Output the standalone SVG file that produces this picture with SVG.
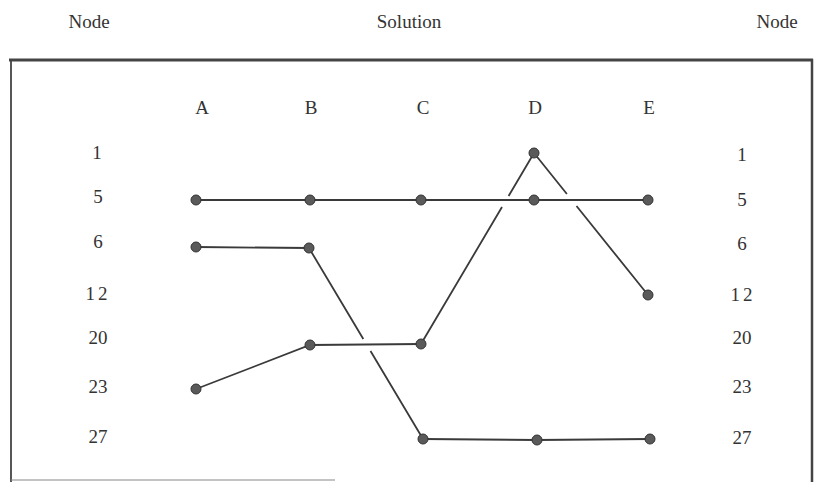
<svg xmlns="http://www.w3.org/2000/svg" width="825" height="482" viewBox="0 0 825 482">
<style>
text{font-family:"Liberation Serif","DejaVu Serif",serif;font-size:19px;fill:#333;text-anchor:middle}
.ln{stroke:#3a3a3a;stroke-width:1.8;fill:none}
.dot{fill:#5a5a5a;stroke:#333;stroke-width:1}
</style>
<rect width="825" height="482" fill="#fff"/>
<g id="headers">
<text x="89" y="28">Node</text>
<text x="409" y="28">Solution</text>
<text x="777" y="28">Node</text>
</g>
<g id="frame" stroke="#444" fill="none">
<line x1="9" y1="60" x2="813" y2="60" stroke-width="3"/>
<line x1="11" y1="59" x2="11" y2="482" stroke-width="1.8"/>
<line x1="812" y1="59" x2="812" y2="482" stroke-width="2.5"/>
<line x1="11" y1="480" x2="335" y2="480" stroke-width="1.2" stroke="#888"/>
</g>
<g id="columns">
<text x="202" y="114">A</text>
<text x="311" y="114">B</text>
<text x="423" y="114">C</text>
<text x="535" y="114">D</text>
<text x="649" y="114">E</text>
</g>
<g id="rows-left">
<text x="97" y="159">1</text>
<text x="98" y="203">5</text>
<text x="98" y="248">6</text>
<text x="98" y="300" letter-spacing="3">12</text>
<text x="98" y="344">20</text>
<text x="98" y="393">23</text>
<text x="98" y="443">27</text>
</g>
<g id="rows-right">
<text x="742" y="161">1</text>
<text x="742" y="206">5</text>
<text x="742" y="250">6</text>
<text x="743" y="301" letter-spacing="3">12</text>
<text x="742" y="344">20</text>
<text x="742" y="393">23</text>
<text x="742" y="444">27</text>
</g>
<g id="connectors">
<path class="ln" d="M196 200 H648"/>
<path class="ln" d="M196 247 L309 248"/>
<path class="ln" d="M309 248 L363.3 339 M370.5 351 L423 439"/>
<path class="ln" d="M423 439 L537 440 L650 439"/>
<path class="ln" d="M196 389 L310 345 L421 344"/>
<path class="ln" d="M421 344 L502 207 M508.6 196 L534 153"/>
<path class="ln" d="M534 153 L566.9 194 M576.5 206 L648 295"/>
</g>
<g id="nodes">
<circle class="dot" cx="196" cy="200" r="5"/>
<circle class="dot" cx="310" cy="200" r="5"/>
<circle class="dot" cx="421" cy="200" r="5"/>
<circle class="dot" cx="534" cy="200" r="5"/>
<circle class="dot" cx="648" cy="200" r="5"/>
<circle class="dot" cx="196" cy="247" r="5"/>
<circle class="dot" cx="309" cy="248" r="5"/>
<circle class="dot" cx="534" cy="153" r="5"/>
<circle class="dot" cx="648" cy="295" r="5"/>
<circle class="dot" cx="310" cy="345" r="5"/>
<circle class="dot" cx="421" cy="344" r="5"/>
<circle class="dot" cx="196" cy="389" r="5"/>
<circle class="dot" cx="423" cy="439" r="5"/>
<circle class="dot" cx="537" cy="440" r="5"/>
<circle class="dot" cx="650" cy="439" r="5"/>
</g>
</svg>
